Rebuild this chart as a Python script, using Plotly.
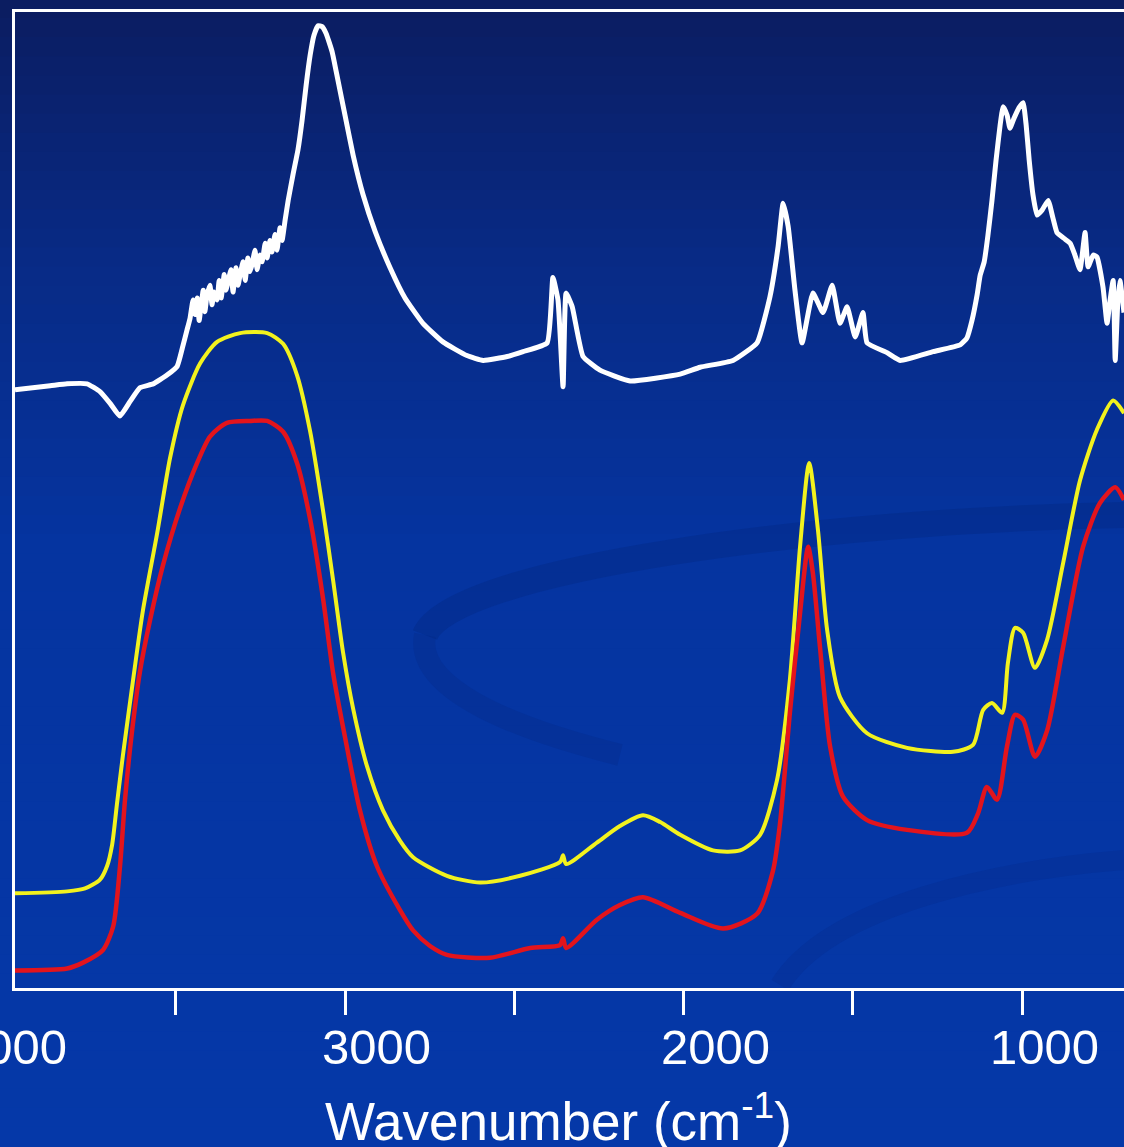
import plotly.graph_objects as go

# ---------------- data ----------------
white_wn = [3975, 3871, 3821, 3762, 3724, 3694, 3665, 3635, 3606, 3567, 3526, 3496, 3479, 3467, 3458,
            3449, 3443, 3437, 3431, 3425, 3419, 3414, 3408, 3399, 3393, 3387, 3378, 3372, 3366, 3357,
            3352, 3346, 3337, 3331, 3322, 3316, 3310, 3301, 3295, 3287, 3281, 3275, 3266, 3260, 3251,
            3245, 3236, 3230, 3222, 3216, 3207, 3201, 3192, 3186, 3177,
            3168, 3154, 3139, 3127, 3115, 3103, 3092, 3080, 3068, 3056, 3038, 3021, 3000, 2976, 2947,
            2911, 2867, 2823, 2770, 2711, 2640, 2592, 2521, 2474, 2403, 2386, 2371, 2356, 2347, 2329,
            2297, 2247, 2158, 2010, 1951, 1854, 1783, 1745, 1721, 1706, 1691, 1671, 1650, 1618, 1588,
            1561, 1538, 1517, 1493, 1470, 1458, 1399, 1360, 1263, 1183, 1163, 1148, 1133, 1124, 1112,
            1101, 1089, 1077, 1065, 1056, 1044, 1036, 1024, 1009, 997, 988, 979, 968, 956, 941, 923,
            909, 897, 876, 858, 844, 829, 814, 805, 790, 779, 761, 749, 740, 731, 725, 717, 711, 699]
white_abs = [0.613, 0.617, 0.619, 0.619, 0.611, 0.599, 0.586, 0.601, 0.615, 0.619, 0.628, 0.637, 0.658, 0.674, 0.686,
             0.705, 0.690, 0.707, 0.684, 0.700, 0.715, 0.693, 0.709, 0.720, 0.700, 0.713, 0.705, 0.725, 0.707, 0.731,
             0.715, 0.723, 0.736, 0.713, 0.738, 0.720, 0.731, 0.744, 0.725, 0.748, 0.734, 0.741, 0.756, 0.736, 0.751,
             0.744, 0.763, 0.748, 0.766, 0.754, 0.772, 0.756, 0.779, 0.766, 0.787,
             0.807, 0.833, 0.859, 0.889, 0.925, 0.956, 0.976, 0.986, 0.985, 0.978, 0.959, 0.930, 0.894, 0.853, 0.813,
             0.775, 0.738, 0.707, 0.681, 0.662, 0.648, 0.643, 0.647, 0.652, 0.661, 0.728, 0.705, 0.616, 0.712, 0.698,
             0.647, 0.633, 0.622, 0.629, 0.636, 0.643, 0.661, 0.708, 0.759, 0.804, 0.780, 0.715, 0.661, 0.712, 0.692,
             0.720, 0.681, 0.698, 0.667, 0.692, 0.661, 0.651, 0.643, 0.652, 0.659, 0.666, 0.684, 0.710, 0.730, 0.744,
             0.771, 0.807, 0.848, 0.884, 0.903, 0.894, 0.881, 0.891, 0.902, 0.907, 0.884, 0.848, 0.813, 0.792, 0.797, 0.807,
             0.789, 0.774, 0.768, 0.763, 0.751, 0.736, 0.774, 0.739, 0.751, 0.749, 0.718, 0.681, 0.705, 0.725, 0.643, 0.705, 0.725, 0.692]

yellow_wn = [3975, 3821, 3768, 3724, 3703, 3688, 3674, 3656, 3626, 3597, 3555, 3517, 3479, 3428, 3378,
             3310, 3230, 3183, 3142, 3103, 3065, 3035, 3006, 2976, 2935, 2888, 2838, 2799, 2699, 2601,
             2483, 2365, 2356, 2347, 2256, 2188, 2120, 2069, 2010, 1913, 1833, 1774, 1724, 1686, 1656,
             1629, 1603, 1576, 1538, 1458, 1340, 1204, 1145, 1115, 1089, 1059, 1042, 1021, 997, 962,
             926, 879, 829, 779, 731, 699]
yellow_abs = [0.097, 0.099, 0.102, 0.111, 0.125, 0.147, 0.188, 0.239, 0.316, 0.387, 0.466, 0.543, 0.597, 0.640, 0.662,
              0.671, 0.671, 0.660, 0.628, 0.570, 0.489, 0.417, 0.344, 0.286, 0.227, 0.182, 0.151, 0.134, 0.115, 0.108,
              0.115, 0.129, 0.136, 0.127, 0.149, 0.166, 0.177, 0.170, 0.157, 0.141, 0.141, 0.157, 0.213, 0.316, 0.452,
              0.538, 0.469, 0.367, 0.298, 0.261, 0.246, 0.242, 0.249, 0.285, 0.292, 0.282, 0.333, 0.369, 0.364, 0.328,
              0.357, 0.435, 0.520, 0.572, 0.602, 0.589]

red_wn = [3975, 3821, 3774, 3715, 3685, 3665, 3650, 3629, 3606, 3576, 3538, 3487, 3437, 3399, 3349,
          3281, 3230, 3183, 3142, 3103, 3065, 3035, 2994, 2956, 2906, 2838, 2799, 2749, 2699, 2572,
          2453, 2365, 2356, 2347, 2256, 2188, 2120, 2010, 1883, 1783, 1736, 1715, 1686, 1656, 1632,
          1618, 1597, 1567, 1529, 1458, 1340, 1163, 1130, 1104, 1074, 1045, 1021, 997, 962, 926,
          879, 820, 770, 725, 699]
red_abs = [0.018, 0.020, 0.026, 0.039, 0.063, 0.124, 0.193, 0.264, 0.324, 0.377, 0.433, 0.492, 0.538, 0.565, 0.579,
           0.581, 0.581, 0.570, 0.538, 0.480, 0.399, 0.322, 0.246, 0.182, 0.125, 0.080, 0.059, 0.043, 0.034, 0.031,
           0.041, 0.044, 0.051, 0.041, 0.070, 0.085, 0.093, 0.077, 0.061, 0.076, 0.120, 0.169, 0.282, 0.384, 0.452,
           0.425, 0.349, 0.247, 0.196, 0.172, 0.162, 0.159, 0.179, 0.206, 0.193, 0.247, 0.280, 0.275, 0.237, 0.264,
           0.349, 0.452, 0.497, 0.513, 0.500]

assert len(white_wn) == len(white_abs), (len(white_wn), len(white_abs))
assert len(yellow_wn) == len(yellow_abs)
assert len(red_wn) == len(red_abs)

x_range = [3975, 699]
tick_vals = [3500, 3000, 2500, 2000, 1500, 1000]
label_vals = [4000, 3000, 2000, 1000]
label_text = ["4000", "3000", "2000", "1000"]
label_shift = [6, 31, 32, 22]
x_title = "Wavenumber (cm<sup>-1</sup>)"

# ---------------- layout helpers ----------------
W, H = 1124, 1147
def fx(x):
    return x / W
def fy(y):
    return 1 - y / H

x_dom = [fx(15), 1.0]
def wn_to_paper(v):
    return x_dom[0] + (x_range[0] - v) / (x_range[0] - x_range[1]) * (x_dom[1] - x_dom[0])

fig = go.Figure()
fig.add_trace(go.Scatter(x=white_wn, y=white_abs, mode="lines",
                         line=dict(color="#ffffff", width=5, shape="spline", smoothing=0.4),
                         showlegend=False))
fig.add_trace(go.Scatter(x=yellow_wn, y=yellow_abs, mode="lines",
                         line=dict(color="#f2f21e", width=4, shape="spline", smoothing=0.7),
                         showlegend=False))
fig.add_trace(go.Scatter(x=red_wn, y=red_abs, mode="lines",
                         line=dict(color="#e3141c", width=4.5, shape="spline", smoothing=0.7),
                         showlegend=False))

# background gradient (styling)
shapes = []
stops = [(0, (11, 28, 96)), (250, (8, 42, 132)), (550, (5, 52, 160)), (1147, (5, 56, 168))]
n = 60
for i in range(n):
    y0 = H * i / n
    y1 = H * (i + 1) / n
    ym = (y0 + y1) / 2
    for j in range(len(stops) - 1):
        if stops[j][0] <= ym <= stops[j + 1][0]:
            t = (ym - stops[j][0]) / (stops[j + 1][0] - stops[j][0])
            c = [int(round(stops[j][1][k] + t * (stops[j + 1][1][k] - stops[j][1][k]))) for k in range(3)]
            break
    shapes.append(dict(type="rect", xref="paper", yref="paper", x0=0, x1=1,
                       y0=fy(y1), y1=fy(y0) + 0.001, fillcolor=f"rgb({c[0]},{c[1]},{c[2]})",
                       line=dict(width=0), layer="below"))

# faint swirl of the slide background
def P(x, y):
    return f"{fx(x):.4f},{fy(y):.4f}"
swirl = f"M {P(1124, 515)} C {P(820, 520)} {P(450, 570)} {P(425, 635)}"
shapes.append(dict(type="path", xref="paper", yref="paper", path=swirl,
                   line=dict(color="rgba(3,35,120,0.28)", width=26), layer="below"))
swirl_b = f"M {P(425, 635)} C {P(415, 685)} {P(500, 725)} {P(620, 755)}"
shapes.append(dict(type="path", xref="paper", yref="paper", path=swirl_b,
                   line=dict(color="rgba(3,35,120,0.2)", width=22), layer="below"))
swirl2 = f"M {P(780, 985)} C {P(830, 905)} {P(1000, 870)} {P(1124, 860)}"
shapes.append(dict(type="path", xref="paper", yref="paper", path=swirl2,
                   line=dict(color="rgba(3,35,120,0.18)", width=20), layer="below"))

annotations = []
for v, t, s in zip(label_vals, label_text, label_shift):
    annotations.append(dict(x=wn_to_paper(v), xref="paper", y=fy(1047), yref="paper", text=t,
                            showarrow=False, xshift=s, xanchor="center", yanchor="middle",
                            font=dict(family="Liberation Sans, Arial", size=49, color="white")))
annotations.append(dict(x=fx(558), xref="paper", y=fy(1117), yref="paper", text=x_title,
                        showarrow=False, xanchor="center", yanchor="middle",
                        font=dict(family="Liberation Sans, Arial", size=53, color="white")))

fig.update_layout(
    width=W, height=H,
    margin=dict(l=0, r=0, t=0, b=0),
    paper_bgcolor="rgb(5,52,160)",
    plot_bgcolor="rgba(0,0,0,0)",
    shapes=shapes,
    annotations=annotations,
    xaxis=dict(domain=x_dom, range=x_range, showgrid=False, zeroline=False,
               showline=True, linecolor="white", linewidth=3, mirror=True,
               tickvals=tick_vals, ticks="outside", ticklen=24, tickwidth=2.5,
               tickcolor="white", showticklabels=False),
    yaxis=dict(domain=[fy(988), fy(12)], range=[0, 1], showgrid=False, zeroline=False,
               showline=True, linecolor="white", linewidth=3, mirror=False,
               showticklabels=False, ticks=""),
)

fig.write_html("out.html")
